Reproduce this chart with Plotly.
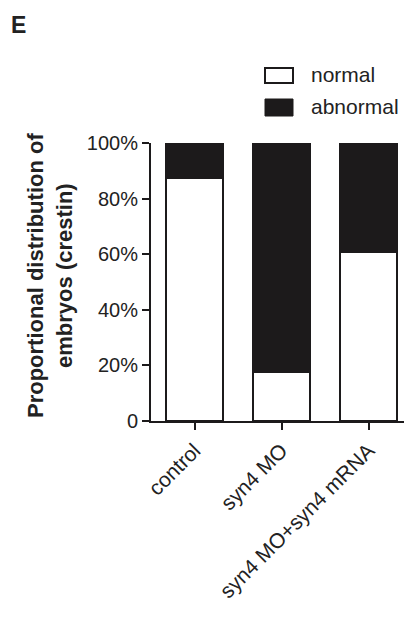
import plotly.graph_objects as go

categories = ["control", "syn4 MO", "syn4 MO+syn4 mRNA"]
normal = [87.5, 17.5, 60.7]
abnormal = [12.5, 82.5, 39.3]
ytick_vals = [0, 20, 40, 60, 80, 100]
ytick_text = ["0", "20%", "40%", "60%", "80%", "100%"]

# page body has an 8px default margin; compensate
OFF = 8
W, H = 412 - OFF, 617 - OFF
L, T = 151 - OFF, 143 - OFF
pw, ph = W - L, 278
B = H - T - ph

def px(x):
    return (x - OFF - L) / pw

def py(y):
    return (T + ph - (y - OFF)) / ph

FONT = "Liberation Sans, Arial, Helvetica, sans-serif"
INK = "#1c1a1b"

fig = go.Figure()
fig.add_trace(go.Bar(x=categories, y=normal, name="normal", width=0.66,
                     marker=dict(color="white", line=dict(color=INK, width=2))))
fig.add_trace(go.Bar(x=categories, y=abnormal, name="abnormal", width=0.66,
                     marker=dict(color=INK, line=dict(color=INK, width=2))))

fig.update_layout(
    barmode="stack",
    width=W, height=H,
    margin=dict(l=L, r=0, t=T, b=B, pad=0),
    paper_bgcolor="white", plot_bgcolor="white",
    showlegend=False,
    font=dict(family=FONT, size=20, color="#222222"),
    xaxis=dict(range=[-0.5, 2.5], showline=True, linecolor=INK, linewidth=2,
               ticks="outside", ticklen=7, tickwidth=2, tickcolor=INK,
               tickangle=-45, tickfont=dict(size=21), showgrid=False, zeroline=False),
    yaxis=dict(range=[0, 100], showline=True, linecolor=INK, linewidth=2,
               ticks="outside", ticklen=7, tickwidth=2, tickcolor=INK,
               tickvals=ytick_vals, ticktext=ytick_text, tickfont=dict(size=20),
               showgrid=False, zeroline=False),
)

# Legend drawn manually for large swatches
fig.add_shape(type="rect", xref="paper", yref="paper",
              x0=px(265), x1=px(293), y0=py(83), y1=py(68),
              fillcolor="white", line=dict(color=INK, width=2))
fig.add_shape(type="rect", xref="paper", yref="paper",
              x0=px(265), x1=px(293), y0=py(116), y1=py(99),
              fillcolor=INK, line=dict(color=INK, width=1))
fig.add_annotation(text="normal", xref="paper", yref="paper", x=px(309), y=py(75),
                   xanchor="left", yanchor="middle", showarrow=False, font=dict(size=21))
fig.add_annotation(text="abnormal", xref="paper", yref="paper", x=px(309), y=py(107),
                   xanchor="left", yanchor="middle", showarrow=False, font=dict(size=21))

# Y-axis title
fig.add_annotation(text="<b>Proportional distribution of<br>embryos (crestin)</b>",
                   xref="paper", yref="paper", x=px(50), y=py(276),
                   xanchor="center", yanchor="middle", textangle=-90, showarrow=False,
                   font=dict(size=22))

# Panel label
fig.add_annotation(text="<b>E</b>", xref="paper", yref="paper", x=px(9), y=py(25),
                   xanchor="left", yanchor="middle", showarrow=False, font=dict(size=23))

fig.write_html("out.html")
